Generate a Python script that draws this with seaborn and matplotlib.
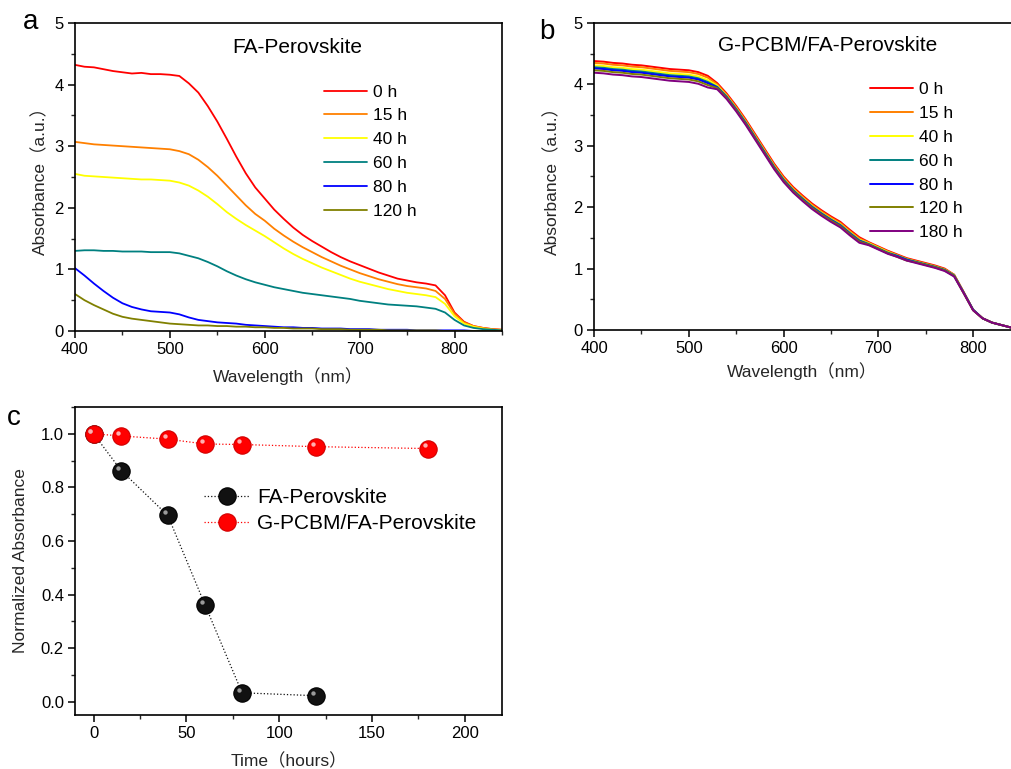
import numpy as np
import pandas as pd
import seaborn as sns
import matplotlib.pyplot as plt
from matplotlib.ticker import MultipleLocator, FormatStrFormatter
from matplotlib import transforms

# ---- panel a : FA-Perovskite spectra (every 10 nm, 400-850 nm)
wl_a = list(range(400, 851, 10))
abs_a_0h = [4.32, 4.29, 4.28, 4.25, 4.22, 4.20, 4.18, 4.19, 4.17, 4.17, 4.16,
            4.14, 4.02, 3.87, 3.65, 3.40, 3.12, 2.83, 2.56, 2.33, 2.15,
            1.97, 1.82, 1.68, 1.56, 1.46, 1.37, 1.28, 1.20, 1.13, 1.07,
            1.01, 0.95, 0.90, 0.85, 0.82, 0.79, 0.77, 0.74, 0.58, 0.30,
            0.15, 0.08, 0.05, 0.03, 0.02]
abs_a_15h = [3.07, 3.05, 3.03, 3.02, 3.01, 3.00, 2.99, 2.98, 2.97, 2.96, 2.95,
             2.92, 2.87, 2.78, 2.66, 2.52, 2.36, 2.20, 2.04, 1.90, 1.79,
             1.66, 1.55, 1.45, 1.36, 1.28, 1.20, 1.13, 1.06, 1.00, 0.94,
             0.89, 0.84, 0.80, 0.76, 0.73, 0.71, 0.69, 0.65, 0.52, 0.28,
             0.14, 0.08, 0.05, 0.03, 0.02]
abs_a_40h = [2.55, 2.52, 2.51, 2.50, 2.49, 2.48, 2.47, 2.46, 2.46, 2.45, 2.44,
             2.41, 2.36, 2.28, 2.18, 2.06, 1.93, 1.82, 1.72, 1.63, 1.54,
             1.44, 1.34, 1.25, 1.17, 1.10, 1.03, 0.97, 0.91, 0.85, 0.80,
             0.76, 0.72, 0.68, 0.65, 0.62, 0.60, 0.58, 0.55, 0.44, 0.24,
             0.12, 0.07, 0.04, 0.02, 0.01]
abs_a_60h = [1.30, 1.31, 1.31, 1.30, 1.30, 1.29, 1.29, 1.29, 1.28, 1.28, 1.28,
             1.26, 1.22, 1.18, 1.12, 1.05, 0.97, 0.90, 0.84, 0.79, 0.75,
             0.71, 0.68, 0.65, 0.62, 0.60, 0.58, 0.56, 0.54, 0.52, 0.49,
             0.47, 0.45, 0.43, 0.42, 0.41, 0.40, 0.38, 0.36, 0.30, 0.18,
             0.09, 0.05, 0.03, 0.02, 0.01]
abs_a_80h = [1.02, 0.90, 0.77, 0.65, 0.54, 0.45, 0.39, 0.35, 0.32, 0.31, 0.30,
             0.27, 0.22, 0.18, 0.16, 0.14, 0.13, 0.12, 0.10, 0.09, 0.08,
             0.07, 0.06, 0.06, 0.05, 0.05, 0.04, 0.04, 0.04, 0.03, 0.03,
             0.03, 0.02, 0.02, 0.02, 0.02, 0.01, 0.01, 0.01, 0.01, 0.01,
             0.01, 0.00, 0.00, 0.00, 0.00]
abs_a_120h = [0.60, 0.50, 0.42, 0.35, 0.28, 0.23, 0.20, 0.18, 0.16, 0.14, 0.12,
              0.11, 0.10, 0.09, 0.09, 0.08, 0.08, 0.07, 0.07, 0.06, 0.06,
              0.05, 0.05, 0.04, 0.04, 0.04, 0.03, 0.03, 0.03, 0.02, 0.02,
              0.02, 0.02, 0.01, 0.01, 0.01, 0.01, 0.01, 0.01, 0.00, 0.00,
              0.00, 0.00, 0.00, 0.00, 0.00]
labels_a = ["0 h", "15 h", "40 h", "60 h", "80 h", "120 h"]

# ---- panel b : G-PCBM/FA-Perovskite spectra (every 10 nm, 400-840 nm)
wl_b = list(range(400, 841, 10))
abs_b_0h = [4.38, 4.37, 4.35, 4.34, 4.32, 4.31, 4.29, 4.27, 4.25, 4.24, 4.23,
            4.20, 4.14, 4.02, 3.85, 3.65, 3.43, 3.19, 2.95, 2.71, 2.50,
            2.33, 2.19, 2.06, 1.95, 1.85, 1.76, 1.63, 1.51, 1.43, 1.36,
            1.29, 1.23, 1.17, 1.13, 1.09, 1.05, 1.00, 0.90, 0.62, 0.33,
            0.19, 0.12, 0.08, 0.04]
abs_b_15h = [4.35, 4.34, 4.32, 4.31, 4.29, 4.28, 4.26, 4.24, 4.22, 4.21, 4.20,
             4.17, 4.11, 4.00, 3.83, 3.63, 3.41, 3.17, 2.93, 2.69, 2.48,
             2.31, 2.17, 2.04, 1.93, 1.83, 1.74, 1.61, 1.49, 1.42, 1.35,
             1.28, 1.22, 1.16, 1.12, 1.08, 1.04, 0.99, 0.90, 0.62, 0.33,
             0.19, 0.12, 0.08, 0.04]
abs_b_40h = [4.31, 4.30, 4.28, 4.27, 4.25, 4.24, 4.22, 4.20, 4.18, 4.17, 4.16,
             4.13, 4.07, 3.98, 3.81, 3.61, 3.39, 3.15, 2.91, 2.67, 2.46,
             2.29, 2.15, 2.02, 1.91, 1.81, 1.72, 1.59, 1.47, 1.41, 1.34,
             1.27, 1.21, 1.15, 1.11, 1.07, 1.03, 0.98, 0.89, 0.61, 0.33,
             0.19, 0.12, 0.08, 0.04]
abs_b_60h = [4.28, 4.27, 4.25, 4.24, 4.22, 4.21, 4.19, 4.17, 4.15, 4.14, 4.13,
             4.10, 4.04, 3.96, 3.80, 3.60, 3.38, 3.14, 2.90, 2.66, 2.45,
             2.28, 2.14, 2.01, 1.90, 1.80, 1.71, 1.58, 1.46, 1.40, 1.33,
             1.26, 1.21, 1.15, 1.11, 1.07, 1.03, 0.98, 0.89, 0.61, 0.33,
             0.19, 0.12, 0.08, 0.04]
abs_b_80h = [4.26, 4.25, 4.23, 4.22, 4.20, 4.19, 4.17, 4.15, 4.13, 4.12, 4.11,
             4.08, 4.02, 3.95, 3.79, 3.59, 3.37, 3.13, 2.89, 2.65, 2.44,
             2.27, 2.13, 2.00, 1.89, 1.79, 1.70, 1.57, 1.45, 1.39, 1.32,
             1.25, 1.20, 1.14, 1.10, 1.06, 1.02, 0.97, 0.88, 0.61, 0.33,
             0.19, 0.12, 0.08, 0.04]
abs_b_120h = [4.23, 4.22, 4.20, 4.19, 4.17, 4.16, 4.14, 4.12, 4.10, 4.09, 4.08,
              4.05, 3.99, 3.94, 3.78, 3.58, 3.36, 3.12, 2.88, 2.64, 2.43,
              2.26, 2.12, 1.99, 1.88, 1.78, 1.69, 1.56, 1.44, 1.39, 1.32,
              1.25, 1.19, 1.13, 1.10, 1.06, 1.02, 0.97, 0.88, 0.60, 0.32,
              0.19, 0.12, 0.08, 0.04]
abs_b_180h = [4.19, 4.18, 4.16, 4.15, 4.13, 4.12, 4.10, 4.08, 4.06, 4.05, 4.04,
              4.01, 3.95, 3.92, 3.76, 3.56, 3.34, 3.10, 2.86, 2.62, 2.41,
              2.24, 2.10, 1.97, 1.86, 1.76, 1.67, 1.54, 1.42, 1.38, 1.31,
              1.24, 1.19, 1.13, 1.09, 1.05, 1.01, 0.96, 0.87, 0.60, 0.32,
              0.19, 0.12, 0.08, 0.04]
labels_b = ["0 h", "15 h", "40 h", "60 h", "80 h", "120 h", "180 h"]

# ---- panel c : normalized absorbance vs time
time_fa = [0, 15, 40, 60, 80, 120]
norm_fa = [1.0, 0.862, 0.695, 0.362, 0.033, 0.022]
time_g = [0, 15, 40, 60, 80, 120, 180]
norm_g = [1.0, 0.992, 0.980, 0.962, 0.960, 0.952, 0.945]

colors = ["#FF0000", "#FF8000", "#FFFF00", "#008080", "#0000FF", "#808000", "#800080"]

sns.set_theme(style="ticks")
plt.rcParams['font.family'] = ['Liberation Sans', 'Noto Sans CJK SC']
plt.rcParams['axes.edgecolor'] = 'black'
plt.rcParams['axes.linewidth'] = 1.2
plt.rcParams['text.color'] = 'black'

fig = plt.figure(figsize=(10.12, 7.69), dpi=100)
ax_a = fig.add_axes([0.0741, 0.5696, 0.4219, 0.4005])
ax_b = fig.add_axes([0.587, 0.5709, 0.412, 0.3992])
ax_c = fig.add_axes([0.0741, 0.0702, 0.4219, 0.4005])

LAB = 12.5


def style_ax(ax, fs=12):
    ax.tick_params(which='major', direction='out', length=5, width=1.1,
                   labelsize=fs, colors='black', top=False, right=False, pad=3)
    ax.tick_params(which='minor', direction='out', length=3, width=1.0,
                   top=False, right=False)
    for s in ax.spines.values():
        s.set_color('black')
        s.set_linewidth(1.2)


# panel a
df_a = pd.concat([pd.DataFrame({'wl': wl_a, 'abs': s, 'time': lab})
                  for lab, s in zip(labels_a, [abs_a_0h, abs_a_15h, abs_a_40h,
                                               abs_a_60h, abs_a_80h, abs_a_120h])])
sns.lineplot(data=df_a, x='wl', y='abs', hue='time', hue_order=labels_a,
             palette=colors[:6], ax=ax_a, lw=1.3, estimator=None, sort=False)
ax_a.set_xlim(400, 850)
ax_a.set_ylim(0, 5)
ax_a.xaxis.set_major_locator(MultipleLocator(100))
ax_a.xaxis.set_minor_locator(MultipleLocator(50))
ax_a.yaxis.set_major_locator(MultipleLocator(1))
ax_a.yaxis.set_minor_locator(MultipleLocator(0.5))
ax_a.set_xlabel("Wavelength（nm）", fontsize=LAB)
ax_a.set_ylabel("Absorbance（a.u.）", fontsize=LAB)
ax_a.xaxis.set_label_coords(0.5, -0.118)
ax_a.yaxis.set_label_coords(-0.062, 0.5)
ax_a.text(0.52, 0.922, "FA-Perovskite", transform=ax_a.transAxes, ha='center',
          va='center', fontsize=15)
style_ax(ax_a)
sns.move_legend(ax_a, "upper left", bbox_to_anchor=(0.567, 0.823), frameon=False,
                title=None, fontsize=12.5, handlelength=2.5, labelspacing=0.5,
                handletextpad=0.3, borderaxespad=0)

# panel b
df_b = pd.concat([pd.DataFrame({'wl': wl_b, 'abs': s, 'time': lab})
                  for lab, s in zip(labels_b, [abs_b_0h, abs_b_15h, abs_b_40h,
                                               abs_b_60h, abs_b_80h, abs_b_120h,
                                               abs_b_180h])])
sns.lineplot(data=df_b, x='wl', y='abs', hue='time', hue_order=labels_b,
             palette=colors, ax=ax_b, lw=1.4, estimator=None, sort=False)
ax_b.set_xlim(400, 840)
ax_b.set_ylim(0, 5)
ax_b.xaxis.set_major_locator(MultipleLocator(100))
ax_b.xaxis.set_minor_locator(MultipleLocator(50))
ax_b.yaxis.set_major_locator(MultipleLocator(1))
ax_b.yaxis.set_minor_locator(MultipleLocator(0.5))
ax_b.set_xlabel("Wavelength（nm）", fontsize=LAB)
ax_b.set_ylabel("Absorbance（a.u.）", fontsize=LAB)
ax_b.xaxis.set_label_coords(0.5, -0.104)
ax_b.yaxis.set_label_coords(-0.08, 0.5)
ax_b.text(0.561, 0.928, "G-PCBM/FA-Perovskite", transform=ax_b.transAxes,
          ha='center', va='center', fontsize=15)
style_ax(ax_b)
ax_b.spines['right'].set_visible(False)
sns.move_legend(ax_b, "upper left", bbox_to_anchor=(0.645, 0.83), frameon=False,
                title=None, fontsize=12.5, handlelength=2.5, labelspacing=0.5,
                handletextpad=0.3, borderaxespad=0)

# panel c
sns.lineplot(x=time_fa, y=norm_fa, ax=ax_c, color='#111111', marker='o',
             markersize=12.5, mec='#000000', mew=0.8, ls=':', lw=0.9,
             label="FA-Perovskite")
sns.lineplot(x=time_g, y=norm_g, ax=ax_c, color='#FF0000', marker='o',
             markersize=12.5, mec='#D00000', mew=0.8, ls=':', lw=0.9,
             label="G-PCBM/FA-Perovskite")
# small glossy highlight on the spheres
hl = transforms.offset_copy(ax_c.transData, fig=fig, x=-2.2, y=2.2, units='points')
sns.scatterplot(x=time_fa, y=norm_fa, ax=ax_c, color='#9a9a9a', s=10,
                linewidth=0, transform=hl, legend=False, zorder=5)
sns.scatterplot(x=time_g, y=norm_g, ax=ax_c, color='#FFB0B0', s=10,
                linewidth=0, transform=hl, legend=False, zorder=5)
ax_c.set_xlim(-10, 220)
ax_c.set_ylim(-0.05, 1.1)
ax_c.xaxis.set_major_locator(MultipleLocator(50))
ax_c.xaxis.set_minor_locator(MultipleLocator(25))
ax_c.yaxis.set_major_locator(MultipleLocator(0.2))
ax_c.yaxis.set_minor_locator(MultipleLocator(0.1))
ax_c.yaxis.set_major_formatter(FormatStrFormatter('%.1f'))
ax_c.set_xlabel("Time（hours）", fontsize=LAB)
ax_c.set_ylabel("Normalized Absorbance", fontsize=LAB)
ax_c.xaxis.set_label_coords(0.5, -0.123)
ax_c.yaxis.set_label_coords(-0.11, 0.5)
style_ax(ax_c)
ax_c.legend(loc="upper left", bbox_to_anchor=(0.282, 0.763), frameon=False,
            fontsize=15, handlelength=2.2, labelspacing=0.32, handletextpad=0.35,
            borderaxespad=0)

fig.text(0.030, 0.971, "a", fontsize=20, va='center', ha='center')
fig.text(0.540, 0.958, "b", fontsize=20, va='center', ha='center')
fig.text(0.014, 0.456, "c", fontsize=20, va='center', ha='center')

fig.savefig("out.png", dpi=100)
